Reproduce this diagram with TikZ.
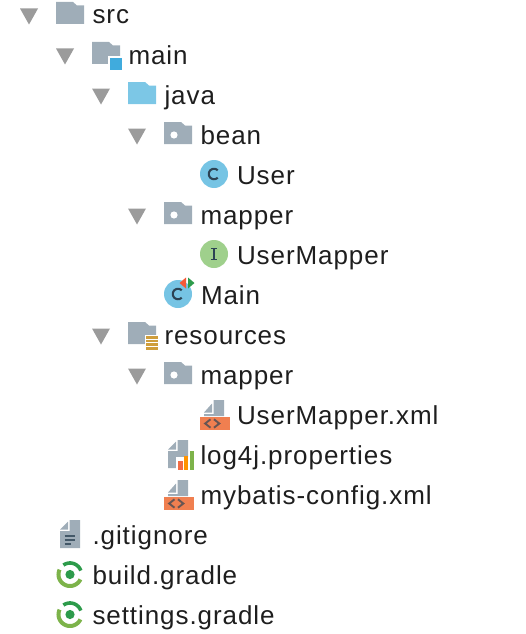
\documentclass[tikz,border=0pt]{standalone}
\usepackage{fontspec}
\setmainfont[LetterSpace=3.6]{Liberation Sans}
\definecolor{arrowgray}{HTML}{9B9B9B}
\definecolor{foldergray}{HTML}{9FADB8}
\definecolor{folderblue}{HTML}{7CC7E6}
\definecolor{badgeblue}{HTML}{40ABDD}
\definecolor{classblue}{HTML}{76C4E4}
\definecolor{ifacegreen}{HTML}{9FD08C}
\definecolor{inkdark}{HTML}{2C4354}
\definecolor{xmlorange}{HTML}{F07F50}
\definecolor{resgold}{HTML}{CF9E3C}
\definecolor{gradlelight}{HTML}{7DB34A}
\definecolor{gradledark}{HTML}{2D9B4B}
\definecolor{txt}{HTML}{1E1E1E}
\tikzset{
  x=1pt,y=-1pt,
  label text/.style={anchor=base west,inner sep=0pt,outer sep=0pt,text=txt,font=\fontsize{26}{30}\selectfont},
  pics/expander/.style={code={\fill[arrowgray] (-9,-7.5)--(9,-7.5)--(0,8.5)--cycle;}},
  pics/folderbody/.style={code={\fill[#1] (0,0)--(0,-22)--(17,-22)--(21,-18.5)--(28,-18.5)--(28,0)--cycle;}},
  pics/pkg/.style={code={\fill[foldergray] (0,0)--(0,-22)--(17,-22)--(21,-18.5)--(28,-18.5)--(28,0)--cycle;
      \fill[white] (10,-9) circle (3.6);}},
  pics/classicon/.style={code={\fill[classblue] (0,0) circle (14);
      \draw[inkdark,line width=2.1pt] plot[domain=45:315,samples=30,smooth] ({5.2*cos(\x)},{5.2*sin(\x)});}},
  pics/ifaceicon/.style={code={\fill[ifacegreen] (0,0) circle (14);
      \draw[inkdark,line width=1.7pt] (-3.2,-5.5)--(3.2,-5.5) (0,-5.5)--(0,5.5) (-3.2,5.5)--(3.2,5.5);}},
  pics/doc/.style={code={
      \fill[foldergray] (9.5,0)--(20,0)--(20,#1)--(0,#1)--(0,11)--(9.5,11)--cycle;
      \fill[foldergray] (0,9.5)--(8,1.5)--(8,9.5)--cycle;}},
  pics/xmlicon/.style={code={
      \fill[foldergray] (9.5,0)--(20,0)--(20,16)--(0,16)--(0,14)--(9.5,14)--cycle;
      \fill[foldergray] (0,12.5)--(8,3.5)--(8,12.5)--cycle;
      \fill[xmlorange] (-4,16.5) rectangle (26,30);
      \draw[inkdark!70!xmlorange,line width=1.9pt] (6.5,19.3)--(1.2,23.5)--(6.5,27.7) (10,19.3)--(15.3,23.5)--(10,27.7);}},
  pics/gradleicon/.style={code={
      \draw[gradlelight,line width=4pt] plot[domain=155:335,samples=30,smooth] ({11.5*cos(\x)},{-11.5*sin(\x)});
      \draw[gradledark,line width=3.6pt] plot[domain=20:125,samples=20,smooth] ({11.5*cos(\x)},{-11.5*sin(\x)});
      \fill[gradledark] (0,0) circle (4.6);}},
}
\begin{document}
\begin{tikzpicture}
\useasboundingbox (0,0) rectangle (526,634);
% expanders
\pic at (29,16) {expander};
\pic at (65,56) {expander};
\pic at (101,96) {expander};
\pic at (137,136) {expander};
\pic at (137,216) {expander};
\pic at (101,336) {expander};
\pic at (137,376) {expander};
% folders
\pic at (56,24) {folderbody=foldergray};
\pic at (92,64) {folderbody=foldergray};
\fill[white] (107.5,56.5) rectangle (123,71);
\fill[badgeblue] (110,58) rectangle (122,70);
\pic at (128,104) {folderbody=folderblue};
\pic at (164,144) {pkg};
\pic at (164,224) {pkg};
\pic at (128,344) {folderbody=foldergray};
\fill[white] (144.5,334.5) rectangle (160,352);
\foreach \ly in {336,339.7,343.4,347.1} \fill[resgold] (146,\ly) rectangle (158,\ly+2.5);
\pic at (164,384) {pkg};
% class icons
\pic at (214,174) {classicon};
\pic at (214,254) {ifaceicon};
\pic at (178,294) {classicon};
\fill[xmlorange!70!red] (179.5,283)--(186,277.5)--(186,288.5)--cycle;
\fill[gradledark] (188,277.5)--(194.5,283)--(188,288.5)--cycle;
% file icons
\pic at (204,400) {xmlicon};
\pic at (168,440) {doc=28};
\fill[white] (175.5,457) rectangle (195,471);
\fill[xmlorange!85!red] (178,460.5) rectangle (182.5,470);
\fill[orange!85!yellow] (183.5,455.5) rectangle (188,470);
\fill[gradlelight] (189.5,451) rectangle (194,470);
\pic at (168,480) {xmlicon};
\pic at (60,520) {doc=28};
\draw[inkdark!80!foldergray,line width=1.3pt] (64.5,536)--(75,536) (64.5,540)--(75,540) (64.5,544)--(71,544);
\pic at (70,574.5) {gradleicon};
\pic at (70,614.5) {gradleicon};
% labels
\node[label text] (src) at (92.5,24) {src};
\node[label text] (main) at (128.5,64) {main};
\node[label text] (java) at (164.5,104) {java};
\node[label text] (bean) at (200.5,144) {bean};
\node[label text] (user) at (237,184) {User};
\node[label text] (mapperA) at (200.5,224) {mapper};
\node[label text] (usermapper) at (237,264) {UserMapper};
\node[label text] (mainclass) at (201,304) {Main};
\node[label text] (resources) at (164.5,344) {resources};
\node[label text] (mapperB) at (200.5,384) {mapper};
\node[label text] (usermapperxml) at (237,424) {UserMapper.xml};
\node[label text] (log) at (200.5,464) {log4j.properties};
\node[label text] (mybatis) at (200.5,504) {mybatis-config.xml};
\node[label text] (gitignore) at (92.5,544) {.gitignore};
\node[label text] (build) at (92.5,584) {build.gradle};
\node[label text] (settings) at (92.5,624) {settings.gradle};
\end{tikzpicture}
\end{document}
